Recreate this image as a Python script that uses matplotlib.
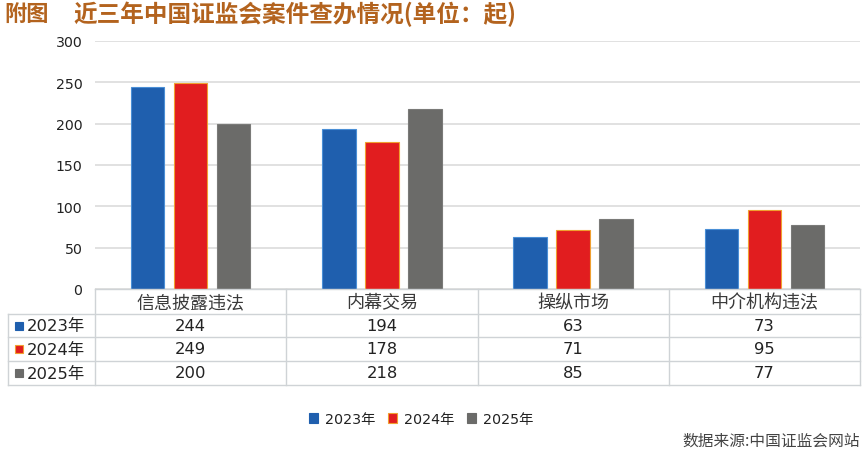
import matplotlib
matplotlib.use('Agg')
import matplotlib.pyplot as plt
import matplotlib.transforms as mtrans
from matplotlib.patches import Rectangle, Patch
import numpy as np

categories = ['信息披露违法', '内幕交易', '操纵市场', '中介机构违法']
years = ['2023年', '2024年', '2025年']
v2023 = [244, 194, 63, 73]
v2024 = [249, 178, 71, 95]
v2025 = [200, 218, 85, 77]
yticks = [0, 50, 100, 150, 200, 250, 300]

colors = ['#1f5fae', '#e11d1f', '#6b6b69']
edges = ['#4a8fd6', '#f0a030', '#7a7a78']

CJK = ['Noto Sans CJK SC', 'DejaVu Sans']
NUM = ['DejaVu Sans', 'Noto Sans CJK SC']
plt.rcParams['font.family'] = CJK

W, H = 865, 456
fig = plt.figure(figsize=(W / 100, H / 100), dpi=100)
fig.patch.set_facecolor('white')


def fx(px):
    return px / W


def fy(py):
    return 1 - py / H


# pixel transform (x from left, y from top)
T = mtrans.Affine2D().scale(1 / W, -1 / H).translate(0, 1) + fig.transFigure

ax = fig.add_axes([fx(95), fy(290), fx(860) - fx(95), fy(42) - fy(290)])
series = [v2023, v2024, v2025]
x = np.arange(len(categories))
offs = [-0.225, 0.0, 0.225]
for s, c, e, o in zip(series, colors, edges, offs):
    ax.bar(x + o, s, width=0.175, color=c, edgecolor=e, linewidth=0.8, zorder=3)
ax.set_xlim(-0.5, len(categories) - 0.5)
ax.set_ylim(0, 300)
ax.set_yticks(yticks)
ax.set_yticklabels([str(t) for t in yticks], family=NUM)
ax.yaxis.grid(True, color='#dcdcdc', lw=1.2, zorder=0)
for sp in ax.spines.values():
    sp.set_visible(False)
ax.tick_params(axis='y', length=0, pad=9, labelsize=10.2, labelcolor='#222222')
ax.set_xticks([])

# ---- data table ----
B = mtrans.blended_transform_factory(ax.transData, T)
rows = [290, 315, 338, 362, 386]
lc = '#cfd3d6'
lw = 1.0
left_px = 8
fig.add_artist(plt.Line2D([fx(95), fx(860)], [fy(rows[0])] * 2, color=lc, lw=lw))
for r in rows[1:]:
    fig.add_artist(plt.Line2D([fx(left_px), fx(860)], [fy(r)] * 2, color=lc, lw=lw))
fig.add_artist(plt.Line2D([fx(left_px)] * 2, [fy(rows[1]), fy(rows[-1])], color=lc, lw=lw))
for b in np.arange(len(categories) + 1) - 0.5:
    fig.add_artist(plt.Line2D([b, b], [rows[0], rows[-1]], color=lc, lw=lw, transform=B))

for i, cat in enumerate(categories):
    fig.text(i, (rows[0] + rows[1]) / 2 + 0.5, cat, transform=B, ha='center', va='center',
             fontsize=13, color='#3a3a3a')
for j, (yr, s) in enumerate(zip(years, series)):
    yc = (rows[j + 1] + rows[j + 2]) / 2
    fig.add_artist(Rectangle((15, yc - 4), 8, 8, transform=T, facecolor=colors[j],
                             edgecolor=edges[j] if j == 1 else colors[j], lw=0.8))
    fig.text(27, yc, yr, transform=T, ha='left', va='center', fontsize=11.8,
             color='#222222', family=NUM)
    for i, v in enumerate(s):
        fig.text(i, yc, str(v), transform=B, ha='center', va='center', fontsize=11.8,
                 color='#222222', family=NUM)

# ---- legend ----
handles = [Patch(facecolor=c, edgecolor=e if k == 1 else c, lw=0.8)
           for k, (c, e) in enumerate(zip(colors, edges))]
leg = fig.legend(handles, years, loc='center', bbox_to_anchor=(fx(421), fy(420)), ncol=3,
                 frameon=False, handlelength=0.65, handleheight=0.65,
                 handletextpad=0.45, columnspacing=0.9, labelcolor='#222222',
                 prop={'family': NUM, 'size': 10.3})

# ---- title & source ----
tc = '#b3631e'
fig.text(fx(4), fy(14), '附图', ha='left', va='center', fontsize=16, fontweight='bold', color=tc)
fig.text(fx(73), fy(14), '近三年中国证监会案件查办情况(单位：起)', ha='left', va='center',
         fontsize=17, fontweight='bold', color=tc)
fig.text(fx(860), fy(441), '数据来源:中国证监会网站', ha='right', va='center', fontsize=11.3,
         color='#444444')

fig.savefig('out.png', dpi=100, facecolor='white')
